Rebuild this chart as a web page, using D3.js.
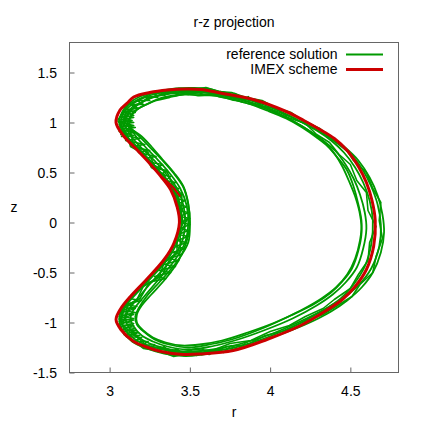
<!DOCTYPE html>
<html>
<head>
<meta charset="utf-8">
<script src="https://cdn.jsdelivr.net/npm/d3@7"></script>
<style>
  body { margin: 0; background: #fff; }
  svg text { font-family: "Liberation Sans", Arial, Helvetica, sans-serif; font-size: 14px; fill: #000; }
</style>
</head>
<body>
<script>
// r-z projection: reference solution (green, several orbits) vs IMEX scheme (red)

const xTicks = [3, 3.5, 4, 4.5]
const xTickLabels = ["3", "3.5", "4", "4.5"]
const yTicks = [-1.5, -1, -0.5, 0, 0.5, 1, 1.5]
const yTickLabels = ["-1.5", "-1", "-0.5", "0", "0.5", "1", "1.5"]
const seriesNames = ["reference solution", "IMEX scheme"]

// IMEX scheme, [r, z]
const imexPoints = [[3.04,1.00],[3.065,1.125],[3.11,1.195],[3.15,1.255],[3.25,1.30],[3.36,1.325],[3.48,1.335],[3.57,1.33],[3.69,1.295],[3.90,1.227],[4.10,1.11],[4.21,1.02],[4.31,0.93],[4.40,0.84],[4.48,0.72],[4.55,0.56],[4.60,0.40],[4.635,0.22],[4.655,0.02],[4.645,-0.24],[4.60,-0.47],[4.53,-0.64],[4.45,-0.77],[4.35,-0.88],[4.19,-1.03],[3.98,-1.17],[3.77,-1.28],[3.565,-1.315],[3.46,-1.32],[3.32,-1.29],[3.22,-1.24],[3.15,-1.19],[3.07,-1.07],[3.04,-0.97],[3.07,-0.86],[3.13,-0.74],[3.23,-0.57],[3.34,-0.37],[3.40,-0.21],[3.435,0.00],[3.42,0.16],[3.38,0.33],[3.32,0.46],[3.25,0.59],[3.15,0.76],[3.09,0.86]]
// short second red stroke on the inner side
const imexSpur = [[3.33,0.45],[3.39,0.36],[3.44,0.26]]

// reference solution orbits, [r, z]
const refLoopA = [[3.07,1.00],[3.09,1.10],[3.13,1.17],[3.19,1.23],[3.27,1.28],[3.37,1.31],[3.48,1.32],[3.58,1.315],[3.70,1.28],[3.82,1.24],[3.92,1.20],[4.05,1.12],[4.12,1.07],[4.20,1.00],[4.30,0.91],[4.38,0.82],[4.46,0.70],[4.53,0.55],[4.58,0.40],[4.62,0.22],[4.64,0.02],[4.63,-0.22],[4.59,-0.44],[4.52,-0.62],[4.44,-0.76],[4.34,-0.87],[4.18,-1.01],[3.98,-1.15],[3.78,-1.25],[3.57,-1.30],[3.46,-1.30],[3.33,-1.27],[3.22,-1.22],[3.16,-1.17],[3.09,-1.06],[3.07,-0.97],[3.09,-0.86],[3.15,-0.74],[3.25,-0.57],[3.36,-0.37],[3.42,-0.20],[3.45,0.02],[3.44,0.16],[3.40,0.33],[3.34,0.46],[3.27,0.59],[3.17,0.76],[3.11,0.86]]
const refLoopB = [[3.09,1.00],[3.11,1.08],[3.15,1.15],[3.21,1.21],[3.29,1.26],[3.38,1.29],[3.49,1.30],[3.59,1.30],[3.71,1.27],[3.83,1.225],[3.94,1.17],[4.06,1.10],[4.15,1.04],[4.24,0.97],[4.33,0.89],[4.42,0.79],[4.51,0.67],[4.58,0.52],[4.63,0.36],[4.67,0.18],[4.69,-0.02],[4.68,-0.24],[4.63,-0.46],[4.55,-0.63],[4.46,-0.75],[4.36,-0.85],[4.20,-0.98],[4.00,-1.12],[3.80,-1.22],[3.60,-1.28],[3.47,-1.29],[3.35,-1.26],[3.25,-1.21],[3.18,-1.15],[3.12,-1.05],[3.10,-0.97],[3.12,-0.87],[3.18,-0.75],[3.27,-0.58],[3.38,-0.38],[3.45,-0.20],[3.47,0.01],[3.46,0.17],[3.42,0.34],[3.36,0.47],[3.29,0.60],[3.19,0.76],[3.13,0.87]]
const refLoopC = [[3.12,1.01],[3.14,1.08],[3.18,1.14],[3.24,1.19],[3.31,1.24],[3.40,1.27],[3.50,1.285],[3.61,1.28],[3.72,1.25],[3.84,1.20],[3.95,1.15],[4.06,1.08],[4.16,1.00],[4.25,0.91],[4.33,0.82],[4.41,0.71],[4.47,0.58],[4.52,0.44],[4.56,0.28],[4.59,0.10],[4.60,-0.06],[4.58,-0.26],[4.54,-0.45],[4.47,-0.60],[4.39,-0.72],[4.29,-0.83],[4.14,-0.96],[3.96,-1.08],[3.78,-1.18],[3.60,-1.25],[3.48,-1.27],[3.36,-1.24],[3.27,-1.19],[3.20,-1.13],[3.15,-1.04],[3.13,-0.96],[3.15,-0.87],[3.21,-0.75],[3.30,-0.58],[3.40,-0.39],[3.47,-0.20],[3.49,0.00],[3.48,0.17],[3.44,0.34],[3.38,0.48],[3.31,0.61],[3.22,0.76],[3.16,0.87]]
const refLoopD = [[3.06,1.00],[3.08,1.11],[3.12,1.19],[3.19,1.26],[3.28,1.30],[3.39,1.335],[3.50,1.345],[3.60,1.34],[3.70,1.305],[3.82,1.26],[3.93,1.21],[4.05,1.14],[4.16,1.06],[4.27,0.97],[4.37,0.87],[4.46,0.76],[4.55,0.62],[4.62,0.45],[4.67,0.27],[4.70,0.08],[4.71,-0.10],[4.69,-0.30],[4.64,-0.50],[4.57,-0.65],[4.48,-0.78],[4.38,-0.89],[4.22,-1.02],[4.01,-1.15],[3.80,-1.26],[3.58,-1.32],[3.47,-1.335],[3.34,-1.31],[3.23,-1.26],[3.14,-1.19],[3.08,-1.08],[3.06,-0.97],[3.08,-0.86],[3.14,-0.74],[3.24,-0.57],[3.35,-0.37],[3.41,-0.20],[3.44,0.02],[3.43,0.17],[3.39,0.33],[3.33,0.46],[3.26,0.59],[3.16,0.76],[3.10,0.86]]
const refLoopE = [[3.10,1.00],[3.12,1.09],[3.16,1.16],[3.22,1.22],[3.30,1.27],[3.40,1.30],[3.51,1.31],[3.62,1.30],[3.74,1.26],[3.85,1.21],[3.97,1.15],[4.08,1.07],[4.18,0.98],[4.26,0.90],[4.34,0.80],[4.40,0.69],[4.45,0.56],[4.49,0.42],[4.53,0.26],[4.56,0.08],[4.57,-0.10],[4.55,-0.28],[4.51,-0.46],[4.45,-0.59],[4.38,-0.70],[4.28,-0.81],[4.13,-0.93],[3.95,-1.06],[3.76,-1.17],[3.59,-1.23],[3.49,-1.25],[3.37,-1.22],[3.28,-1.17],[3.22,-1.10],[3.17,-1.02],[3.16,-0.94],[3.18,-0.86],[3.23,-0.74],[3.32,-0.58],[3.42,-0.39],[3.49,-0.20],[3.50,0.00],[3.49,0.18],[3.46,0.35],[3.40,0.49],[3.33,0.62],[3.24,0.77],[3.18,0.87]]
const refLoopH = [[3.11,0.98],[3.13,1.06],[3.17,1.13],[3.23,1.18],[3.29,1.22],[3.37,1.25],[3.46,1.28],[3.55,1.27],[3.65,1.27],[3.76,1.23],[3.86,1.19],[3.98,1.12],[4.10,1.04],[4.20,0.95],[4.29,0.85],[4.36,0.76],[4.42,0.65],[4.48,0.52],[4.52,0.36],[4.55,0.18],[4.57,0.00],[4.56,-0.18],[4.53,-0.36],[4.48,-0.52],[4.41,-0.65],[4.32,-0.76],[4.19,-0.88],[4.03,-1.00],[3.86,-1.10],[3.70,-1.18],[3.56,-1.22],[3.45,-1.23],[3.35,-1.20],[3.27,-1.15],[3.21,-1.08],[3.17,-1.00],[3.17,-0.92],[3.20,-0.83],[3.26,-0.72],[3.35,-0.56],[3.43,-0.38],[3.48,-0.19],[3.50,0.00],[3.49,0.19],[3.46,0.36],[3.40,0.50],[3.33,0.63],[3.26,0.76],[3.20,0.86]]

// jagged orbits (drawn with straight segments)
const refLoopF = [[3.08,0.99],[3.10,1.09],[3.15,1.17],[3.20,1.20],[3.24,1.25],[3.33,1.28],[3.40,1.31],[3.46,1.29],[3.55,1.32],[3.63,1.29],[3.72,1.29],[3.78,1.24],[3.88,1.23],[3.96,1.16],[4.04,1.14],[4.11,1.05],[4.22,0.99],[4.29,0.88],[4.37,0.80],[4.43,0.68],[4.50,0.58],[4.54,0.42],[4.60,0.30],[4.61,0.12],[4.66,-0.04],[4.62,-0.20],[4.61,-0.38],[4.55,-0.52],[4.50,-0.66],[4.40,-0.77],[4.33,-0.86],[4.22,-0.94],[4.12,-1.03],[4.00,-1.09],[3.88,-1.18],[3.75,-1.21],[3.64,-1.28],[3.52,-1.27],[3.42,-1.31],[3.32,-1.25],[3.24,-1.24],[3.18,-1.16],[3.13,-1.10],[3.08,-1.02],[3.10,-0.92],[3.11,-0.84],[3.19,-0.76],[3.24,-0.62],[3.33,-0.52],[3.37,-0.38],[3.44,-0.28],[3.44,-0.12],[3.48,0.02],[3.45,0.14],[3.45,0.28],[3.39,0.38],[3.36,0.50],[3.28,0.57],[3.24,0.70],[3.15,0.78],[3.13,0.90],[3.08,0.99]]
const refLoopG = [[3.05,1.02],[3.09,1.12],[3.12,1.18],[3.19,1.24],[3.26,1.29],[3.34,1.30],[3.43,1.34],[3.52,1.33],[3.60,1.35],[3.68,1.31],[3.76,1.30],[3.85,1.25],[3.95,1.22],[4.03,1.15],[4.13,1.10],[4.21,1.01],[4.31,0.94],[4.38,0.84],[4.47,0.74],[4.52,0.62],[4.60,0.50],[4.64,0.34],[4.69,0.20],[4.68,0.02],[4.70,-0.16],[4.66,-0.34],[4.64,-0.50],[4.56,-0.62],[4.51,-0.74],[4.41,-0.84],[4.33,-0.92],[4.20,-1.00],[4.10,-1.08],[3.97,-1.13],[3.86,-1.22],[3.73,-1.24],[3.62,-1.31],[3.50,-1.30],[3.40,-1.34],[3.30,-1.28],[3.21,-1.26],[3.15,-1.18],[3.09,-1.12],[3.06,-1.02],[3.08,-0.93],[3.09,-0.85],[3.17,-0.77],[3.21,-0.64],[3.31,-0.54],[3.34,-0.40],[3.42,-0.30],[3.42,-0.14],[3.46,0.00],[3.44,0.12],[3.43,0.26],[3.37,0.36],[3.34,0.48],[3.26,0.55],[3.22,0.68],[3.13,0.76],[3.11,0.88],[3.05,1.02]]

// zig-zag strokes of the reference solution
const hatchTop = [[3.22,0.64],[3.29,0.66],[3.18,0.70],[3.25,0.72],[3.14,0.76],[3.22,0.78],[3.10,0.82],[3.19,0.84],[3.07,0.88],[3.16,0.90],[3.07,0.93],[3.16,0.95],[3.06,0.98],[3.15,1.00],[3.07,1.03],[3.15,1.05],[3.08,1.08],[3.16,1.10],[3.10,1.13],[3.18,1.14],[3.13,1.18],[3.21,1.18],[3.17,1.22],[3.25,1.22],[3.22,1.26],[3.30,1.25],[3.28,1.29]]
const hatchTop2 = [[3.07,0.86],[3.15,0.87],[3.06,0.91],[3.15,0.92],[3.06,0.955],[3.15,0.97],[3.06,1.005],[3.14,1.02],[3.07,1.055],[3.15,1.07],[3.09,1.105],[3.17,1.12]]
const hatchInner = [[3.26,0.60],[3.33,0.58],[3.29,0.54],[3.36,0.52],[3.32,0.48],[3.38,0.46],[3.35,0.42],[3.41,0.40],[3.37,0.36],[3.43,0.34],[3.39,0.30],[3.45,0.28],[3.41,0.24],[3.47,0.22],[3.42,0.18],[3.48,0.16],[3.43,0.12],[3.49,0.10],[3.44,0.06],[3.50,0.04],[3.44,0.00],[3.50,-0.02],[3.44,-0.06],[3.49,-0.08],[3.43,-0.12],[3.49,-0.14],[3.42,-0.18],[3.48,-0.20],[3.41,-0.24],[3.47,-0.26],[3.39,-0.30],[3.45,-0.32],[3.37,-0.36],[3.43,-0.38],[3.34,-0.42],[3.41,-0.44],[3.31,-0.48],[3.38,-0.50],[3.28,-0.54],[3.35,-0.56],[3.24,-0.60]]
const hatchBottom = [[3.12,-0.76],[3.20,-0.78],[3.09,-0.82],[3.17,-0.84],[3.07,-0.88],[3.16,-0.90],[3.06,-0.94],[3.15,-0.96],[3.06,-0.99],[3.15,-1.01],[3.07,-1.04],[3.16,-1.06],[3.09,-1.09],[3.18,-1.10],[3.11,-1.14],[3.20,-1.15],[3.15,-1.19],[3.24,-1.19],[3.20,-1.23],[3.28,-1.22],[3.26,-1.27],[3.34,-1.26]]
const hatchBottom2 = [[3.08,-0.85],[3.16,-0.86],[3.06,-0.91],[3.15,-0.92],[3.06,-0.965],[3.15,-0.975],[3.06,-1.02],[3.15,-1.03],[3.08,-1.07],[3.16,-1.08],[3.10,-1.12],[3.19,-1.13]]
const teethTop = [[3.28,1.27],[3.31,1.31],[3.34,1.27],[3.38,1.32],[3.42,1.28],[3.45,1.33],[3.49,1.28],[3.53,1.34],[3.57,1.29],[3.61,1.33],[3.65,1.28],[3.69,1.31],[3.74,1.26],[3.78,1.29],[3.83,1.24],[3.87,1.26]]
const teethBottom = [[3.26,-1.23],[3.30,-1.29],[3.34,-1.24],[3.38,-1.31],[3.42,-1.26],[3.46,-1.33],[3.50,-1.27],[3.54,-1.33],[3.58,-1.27],[3.62,-1.32],[3.67,-1.26],[3.71,-1.30],[3.76,-1.23],[3.80,-1.27],[3.85,-1.20],[3.89,-1.23]]

const refLoops = [refLoopA, refLoopB, refLoopC, refLoopD, refLoopE, refLoopH]
const refJagged = [refLoopF, refLoopG, hatchTop, hatchTop2, hatchInner, hatchBottom, hatchBottom2, teethTop, teethBottom]

const green = "#009a00"
const red = "#cc0000"

let w = 422, h = 422
let margin = {left: 69.5, right: 23.5, top: 42.5, bottom: 49.5}

let svg = d3.select("body").append("svg")
    .attr("width", w)
    .attr("height", h)

let x = d3.scaleLinear().domain([2.75, 4.8]).range([margin.left, w - margin.right])
let y = d3.scaleLinear().domain([-1.5, 1.8]).range([h - margin.bottom, margin.top])

// axes, ticks pointing inwards like gnuplot
let xAxis = d3.axisBottom(x).tickValues(xTicks)
    .tickFormat((d, i) => xTickLabels[i]).tickSizeInner(-5).tickSizeOuter(0)
let gx = svg.append("g").attr("transform", "translate(0," + (h - margin.bottom) + ")").call(xAxis)
gx.select(".domain").remove()
gx.selectAll(".tick line").attr("stroke", "#666")
gx.selectAll(".tick text").attr("y", 23.5).attr("dy", null)
    .style("font-size", "14px").attr("font-family", null)

let yAxis = d3.axisLeft(y).tickValues(yTicks)
    .tickFormat((d, i) => yTickLabels[i]).tickSizeInner(-5).tickSizeOuter(0)
let gy = svg.append("g").attr("transform", "translate(" + margin.left + ",0)").call(yAxis)
gy.select(".domain").remove()
gy.selectAll(".tick line").attr("stroke", "#666")
gy.selectAll(".tick text").attr("x", -12.5).attr("dy", "0.35em")
    .style("font-size", "14px").attr("font-family", null)

// curves
svg.append("clipPath").attr("id", "plotArea").append("rect")
    .attr("x", margin.left).attr("y", margin.top)
    .attr("width", w - margin.left - margin.right).attr("height", h - margin.top - margin.bottom)

let plot = svg.append("g").attr("clip-path", "url(#plotArea)")

let smoothLoop = d3.line().x(d => x(d[0])).y(d => y(d[1])).curve(d3.curveCatmullRomClosed)
let straight = d3.line().x(d => x(d[0])).y(d => y(d[1]))

plot.selectAll(".ref")
    .data(refLoops)
    .enter()
    .append("path")
    .attr("class", "ref")
    .attr("d", smoothLoop)
    .attr("fill", "none")
    .attr("stroke", green)
    .attr("stroke-width", 1.8)
    .attr("stroke-linejoin", "round")

plot.selectAll(".refj")
    .data(refJagged)
    .enter()
    .append("path")
    .attr("class", "refj")
    .attr("d", straight)
    .attr("fill", "none")
    .attr("stroke", green)
    .attr("stroke-width", 1.6)
    .attr("stroke-linejoin", "round")

plot.append("path")
    .attr("d", smoothLoop(imexPoints))
    .attr("fill", "none")
    .attr("stroke", red)
    .attr("stroke-width", 3)

plot.append("path")
    .attr("d", d3.line().x(d => x(d[0])).y(d => y(d[1])).curve(d3.curveCatmullRom)(imexSpur))
    .attr("fill", "none")
    .attr("stroke", red)
    .attr("stroke-width", 2)

// border
svg.append("rect")
    .attr("x", margin.left).attr("y", margin.top)
    .attr("width", w - margin.left - margin.right).attr("height", h - margin.top - margin.bottom)
    .attr("fill", "none").attr("stroke", "#666").attr("stroke-width", 1)

// title and axis labels
svg.append("text").attr("x", 234).attr("y", 27).attr("text-anchor", "middle").text("r-z projection")
svg.append("text").attr("x", 234).attr("y", 416.5).attr("text-anchor", "middle").text("r")
svg.append("text").attr("x", 14).attr("y", 212).attr("text-anchor", "middle").text("z")

// legend
let legendColors = [green, red]
let legendWidths = [2, 3]
let legend = svg.selectAll(".legend")
    .data(seriesNames)
    .enter()
    .append("g")
    .attr("class", "legend")
    .attr("transform", (d, i) => "translate(0," + (54.5 + i * 15) + ")")
legend.append("text").attr("x", 337.5).attr("dy", "0.35em").attr("text-anchor", "end").text(d => d)
legend.append("line").attr("x1", 346).attr("x2", 383)
    .attr("stroke", (d, i) => legendColors[i]).attr("stroke-width", (d, i) => legendWidths[i])
</script>
</body>
</html>
